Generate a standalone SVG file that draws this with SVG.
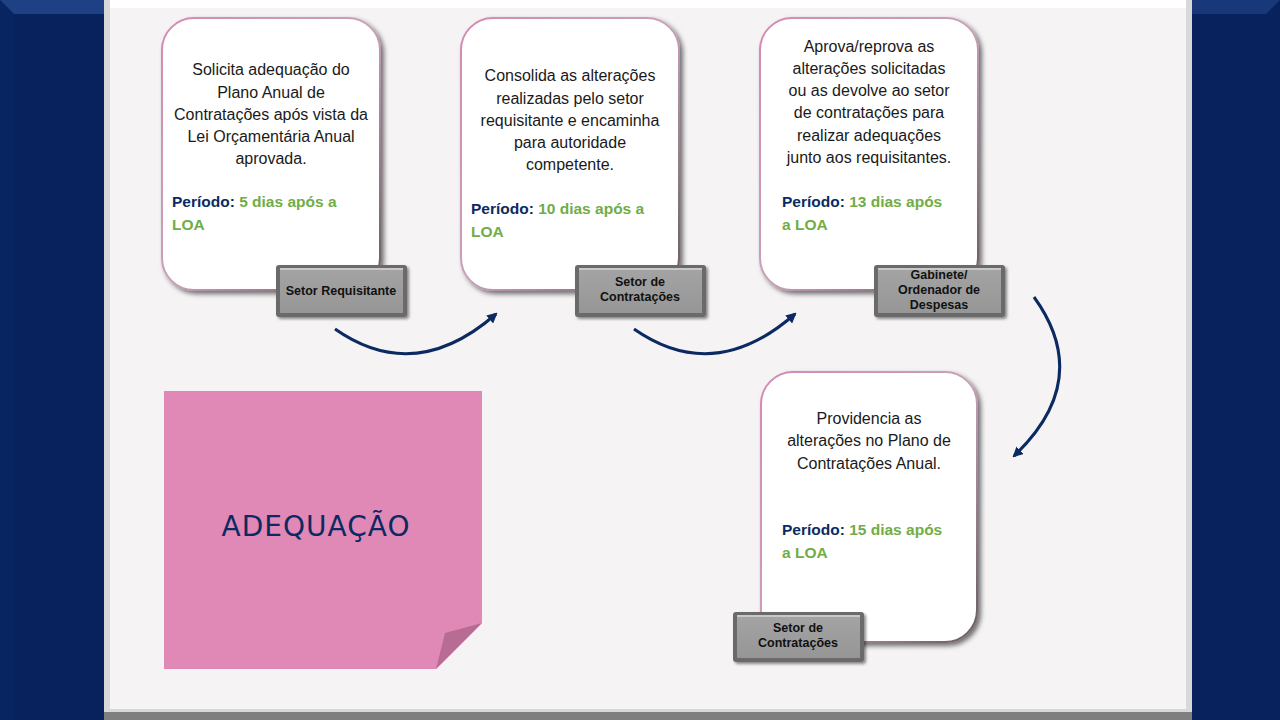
<svg xmlns="http://www.w3.org/2000/svg" width="1280" height="720" viewBox="0 0 1280 720">
<defs>
<style>
.body{font-family:"Liberation Sans",Arial,sans-serif;font-size:16px;fill:#1a1a1a;text-anchor:middle}
.per{font-family:"Liberation Sans",Arial,sans-serif;font-size:15.5px;font-weight:bold}
.lbl{font-family:"Liberation Sans",Arial,sans-serif;font-size:12.5px;font-weight:bold;fill:#111;text-anchor:middle}
.card{fill:#ffffff;stroke:url(#cardStroke);stroke-width:2}
.conn{fill:none;stroke:#0c2a62;stroke-width:3}
.navy{fill:#0c2a62}
.green{fill:#70ad47}
</style>
<linearGradient id="cardStroke" x1="0" y1="0" x2="1" y2="1">
<stop offset="0" stop-color="#d48ab4"/>
<stop offset="0.5" stop-color="#c9a0b8"/>
<stop offset="1" stop-color="#6a5a64"/>
</linearGradient>
<linearGradient id="btnFace" x1="0" y1="0" x2="0" y2="1">
<stop offset="0" stop-color="#a4a4a4"/>
<stop offset="1" stop-color="#969696"/>
</linearGradient>
<filter id="shadow" x="-10%" y="-10%" width="130%" height="130%">
<feDropShadow dx="3" dy="3" stdDeviation="2.5" flood-color="#000" flood-opacity="0.55"/>
</filter>
<filter id="bshadow" x="-10%" y="-20%" width="130%" height="150%">
<feDropShadow dx="2" dy="2" stdDeviation="1.5" flood-color="#000" flood-opacity="0.45"/>
</filter>
<marker id="arrow" viewBox="0 0 10 10" refX="8" refY="5" markerWidth="3.5" markerHeight="3.5" orient="auto" markerUnits="strokeWidth">
<path d="M0,0 L10,5 L0,10 z" fill="#0c2a62"/>
</marker>
</defs>

<!-- background frame -->
<g id="frame">
<rect x="0" y="0" width="1280" height="720" fill="#07225d"/>
<polygon points="0,0 104,0 104,14 14,14" fill="#2a4d96" opacity="0.7"/>
<polygon points="0,0 14,14 14,720 0,720" fill="#0a2866" opacity="0.6"/>
<polygon points="1192,0 1280,0 1266,14 1192,14" fill="#2a4d96" opacity="0.5"/>
<rect x="104" y="0" width="1088" height="720" fill="#7f7f7f"/>
<rect x="104" y="0" width="1088" height="712" fill="#d8d8d8"/>
<rect x="110" y="0" width="1076" height="709" fill="#f5f3f4"/>
<rect x="110" y="0" width="1076" height="8" fill="#ffffff"/>
</g>

<!-- connectors -->
<g id="connectors">
<path class="conn" d="M335,329 Q415,385 496,314" marker-end="url(#arrow)"/>
<path class="conn" d="M634,329 Q714,385 795,314" marker-end="url(#arrow)"/>
<path class="conn" d="M1034,297 Q1094,380 1014,456" marker-end="url(#arrow)"/>
</g>

<!-- node 1 -->
<g id="node1">
<rect class="card" x="162" y="18" width="218" height="272" rx="32" filter="url(#shadow)"/>
<text class="body" x="271" y="75">Solicita adequação do</text>
<text class="body" x="271" y="98">Plano Anual de</text>
<text class="body" x="271" y="120">Contratações após vista da</text>
<text class="body" x="271" y="142">Lei Orçamentária Anual</text>
<text class="body" x="271" y="164">aprovada.</text>
<text class="per" x="172" y="207"><tspan class="navy">Período: </tspan><tspan class="green">5 dias após a</tspan></text>
<text class="per green" x="172" y="230">LOA</text>
<g filter="url(#bshadow)">
<rect x="276" y="265" width="131" height="52" rx="3" fill="#6a6a6a"/>
<rect x="280" y="268" width="123" height="45" fill="url(#btnFace)"/>
<rect x="280" y="268" width="123" height="2" fill="#c8c8c8"/>
</g>
<text class="lbl" x="341" y="295">Setor Requisitante</text>
</g>

<!-- node 2 -->
<g id="node2">
<rect class="card" x="461" y="18" width="218" height="272" rx="32" filter="url(#shadow)"/>
<text class="body" x="570" y="81">Consolida as alterações</text>
<text class="body" x="570" y="104">realizadas pelo setor</text>
<text class="body" x="570" y="126">requisitante e encaminha</text>
<text class="body" x="570" y="148">para autoridade</text>
<text class="body" x="570" y="170">competente.</text>
<text class="per" x="471" y="214"><tspan class="navy">Período: </tspan><tspan class="green">10 dias após a</tspan></text>
<text class="per green" x="471" y="237">LOA</text>
<g filter="url(#bshadow)">
<rect x="575" y="265" width="131" height="52" rx="3" fill="#6a6a6a"/>
<rect x="579" y="268" width="123" height="45" fill="url(#btnFace)"/>
<rect x="579" y="268" width="123" height="2" fill="#c8c8c8"/>
</g>
<text class="lbl" x="640" y="286">Setor de</text>
<text class="lbl" x="640" y="301">Contratações</text>
</g>

<!-- node 3 -->
<g id="node3">
<rect class="card" x="760" y="18" width="218" height="272" rx="32" filter="url(#shadow)"/>
<text class="body" x="869" y="52">Aprova/reprova as</text>
<text class="body" x="869" y="74">alterações solicitadas</text>
<text class="body" x="869" y="96">ou as devolve ao setor</text>
<text class="body" x="869" y="118">de contratações para</text>
<text class="body" x="869" y="141">realizar adequações</text>
<text class="body" x="869" y="163">junto aos requisitantes.</text>
<text class="per" x="782" y="207"><tspan class="navy">Período: </tspan><tspan class="green">13 dias após</tspan></text>
<text class="per green" x="782" y="230">a LOA</text>
<g filter="url(#bshadow)">
<rect x="874" y="265" width="131" height="52" rx="3" fill="#6a6a6a"/>
<rect x="878" y="268" width="123" height="45" fill="url(#btnFace)"/>
<rect x="878" y="268" width="123" height="2" fill="#c8c8c8"/>
</g>
<text class="lbl" x="939" y="279">Gabinete/</text>
<text class="lbl" x="939" y="294">Ordenador de</text>
<text class="lbl" x="939" y="309">Despesas</text>
</g>

<!-- node 4 -->
<g id="node4">
<rect class="card" x="761" y="372" width="216" height="270" rx="32" filter="url(#shadow)"/>
<text class="body" x="869" y="424">Providencia as</text>
<text class="body" x="869" y="446">alterações no Plano de</text>
<text class="body" x="869" y="469">Contratações Anual.</text>
<text class="per" x="782" y="535"><tspan class="navy">Período: </tspan><tspan class="green">15 dias após</tspan></text>
<text class="per green" x="782" y="558">a LOA</text>
<g filter="url(#bshadow)">
<rect x="733" y="612" width="131" height="50" rx="3" fill="#6a6a6a"/>
<rect x="737" y="615" width="123" height="43" fill="url(#btnFace)"/>
<rect x="737" y="615" width="123" height="2" fill="#c8c8c8"/>
</g>
<text class="lbl" x="798" y="632">Setor de</text>
<text class="lbl" x="798" y="647">Contratações</text>
</g>

<!-- title note -->
<g id="title">
<polygon points="164,391 482,391 482,623 436,669 164,669" fill="#e088b6"/>
<polygon points="482,623 445,633 436,669" fill="#b76c94"/>
<text x="316" y="536" font-family="'DejaVu Sans', sans-serif" font-size="28" fill="#0c2a62" text-anchor="middle" letter-spacing="1">ADEQUAÇÃO</text>
</g>
</svg>
